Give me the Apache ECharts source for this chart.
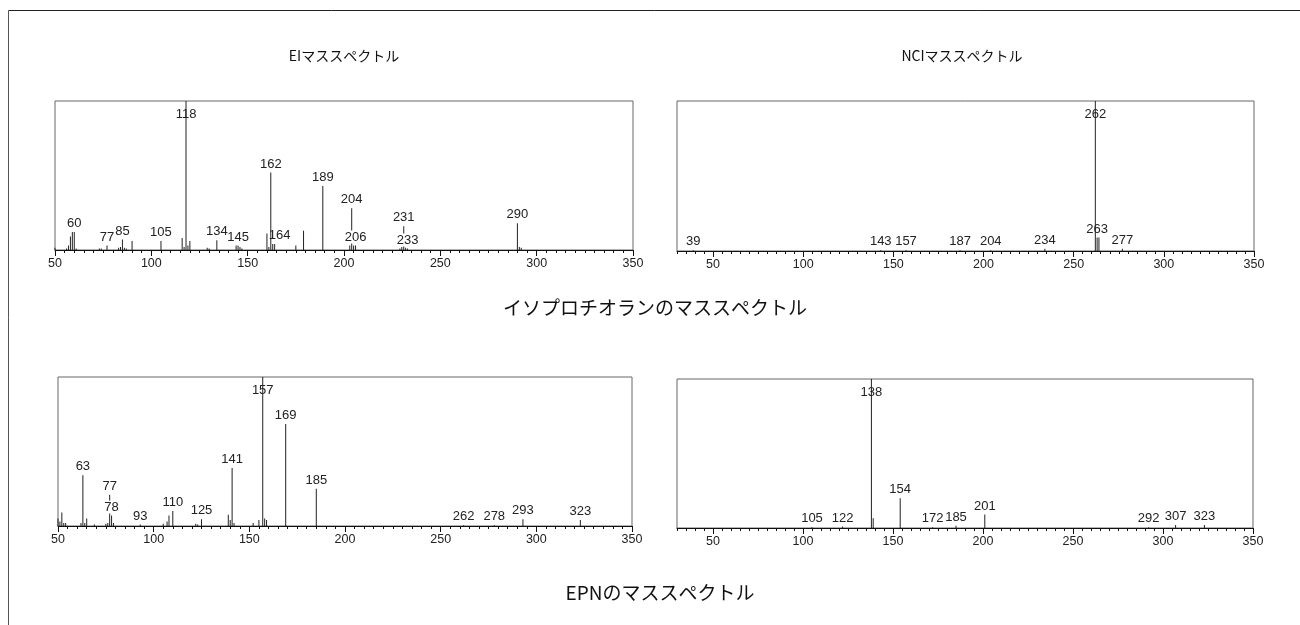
<!DOCTYPE html>
<html><head><meta charset="utf-8">
<script src="https://cdn.jsdelivr.net/npm/echarts@6/dist/echarts.min.js"></script>
<style>html,body{margin:0;padding:0;background:#fff}#c{width:1300px;height:625px}</style>
</head><body><div id="c"></div>
<script>
// ---- Panel titles ----
const titleEI = 'EIマススペクトル';
const titleNCI = 'NCIマススペクトル';
const titleIso = 'イソプロチオランのマススペクトル';
const titleEPN = 'EPNのマススペクトル';

// ---- Tick labels ----
const majorTicks = [50, 100, 150, 200, 250, 300, 350];

// ---- Isoprothiolane EI ----
const isoEiMz  = [50,56,57,58,59,60,61,73,74,77,83,84,85,86,87,90,105,116,117,118,119,120,129,130,134,144,145,146,147,160,161,162,163,164,175,179,189,203,204,205,206,229,230,231,232,233,290,291,292];
const isoEiInt = [1.5,1,3,9,12,12,1,1,1,3,1.5,2,7,1.5,1,6,6,8,2,100,3,6,1.5,1,6.5,3,3,2,1,11,2,52,4,4,3,13,43,3,28,3,3,1,2,16,1.5,1,18,2,1.5];
const isoEiLabeled = [60,77,85,105,118,134,145,162,164,189,204,206,231,233,290];

// ---- Isoprothiolane NCI ----
const isoNciMz  = [39,143,157,187,204,234,262,263,264,277];
const isoNciInt = [0.5,0.5,0.5,0.5,0.5,1.5,100,9,9,1.5];
const isoNciLabeled = [39,143,157,187,204,234,262,263,277];

// ---- EPN EI ----
const epnEiMz  = [50,51,52,53,54,62,63,64,65,69,75,76,77,78,79,93,105,107,108,110,122,123,125,139,140,141,142,152,155,157,158,159,169,185,262,278,293,323];
const epnEiInt = [5,3,9,2,2,2,34,2,5,1,1.5,2,21,7,2,1,1.5,3,7,10,1.5,1,4.5,7.5,4,39,2,2,4,100,5,4,68.5,25,0.5,0.5,4.5,4];
const epnEiLabeled = [63,77,78,93,110,125,141,157,169,185,262,278,293,323];

// ---- EPN NCI ----
const epnNciMz  = [105,122,138,139,154,172,185,201,292,307,323];
const epnNciInt = [0.5,1,100,6.5,20,0.5,1.5,9,0.5,2,2];
const epnNciLabeled = [105,122,138,154,172,185,201,292,307,323];

const whiteBg = [206,233,78];
const numFont = "'Liberation Sans Narrow','Arial Narrow','Liberation Sans',Arial,sans-serif";
const jpFont = "'Noto Sans CJK JP','Liberation Sans',sans-serif";

const panels = [
  {mz: isoEiMz, it: isoEiInt, lab: isoEiLabeled, min: 50, grid: {left:55, top:101, width:578, height:149}},
  {mz: isoNciMz, it: isoNciInt, lab: isoNciLabeled, min: 30, grid: {left:677, top:101, width:577, height:150}},
  {mz: epnEiMz, it: epnEiInt, lab: epnEiLabeled, min: 50, grid: {left:58, top:377, width:574, height:149}},
  {mz: epnNciMz, it: epnNciInt, lab: epnNciLabeled, min: 30, grid: {left:677, top:379, width:576, height:149}}
];

const grid = [], xAxis = [], yAxis = [], series = [];
panels.forEach((p, i) => {
  grid.push(Object.assign({show: true, borderColor: '#666', borderWidth: 1, containLabel: false}, p.grid));
  const minor = [];
  for (let v = p.min; v <= 350; v += 5) minor.push(v);
  xAxis.push({
    type: 'value', gridIndex: i, min: p.min, max: 350, position: 'bottom',
    axisLine: {show: true, onZero: false, lineStyle: {color: '#111', width: 1}},
    axisTick: {show: true, customValues: majorTicks, length: 6, lineStyle: {color: '#111'}},
    axisLabel: {show: true, customValues: majorTicks, margin: 7, fontSize: 12.5, color: '#222', fontFamily: numFont},
    splitLine: {show: false}
  });
  xAxis.push({
    type: 'value', gridIndex: i, min: p.min, max: 350, position: 'bottom',
    axisLine: {show: false},
    axisTick: {show: true, customValues: minor, length: 3, lineStyle: {color: '#111'}},
    axisLabel: {show: false},
    splitLine: {show: false}
  });
  yAxis.push({type: 'value', gridIndex: i, min: 0, max: 100, show: false, splitLine: {show: false}});
  const data = p.mz.map((m, k) => {
    const labeled = p.lab.indexOf(m) >= 0;
    const base = p.it[k] >= 100;
    const item = {value: [m, p.it[k]]};
    if (labeled) {
      item.label = base
        ? {show: true, position: 'insideTop', distance: 7}
        : {show: true, position: 'top', distance: 2};
      if (whiteBg.indexOf(m) >= 0) { item.label.backgroundColor = '#fff'; item.label.padding = [0, 1]; }
      if (i === 0 && m === 164) item.label.offset = [5, 0];
    }
    return item;
  });
  series.push({
    type: 'bar', xAxisIndex: i * 2, yAxisIndex: i, barWidth: 1,
    itemStyle: {color: '#222'},
    label: {show: false, formatter: (d) => String(d.value[0]), fontSize: 13, color: '#222', fontFamily: numFont},
    data: data
  });
});

const chart = echarts.init(document.getElementById('c'));
chart.setOption({
  animation: false,
  backgroundColor: '#fff',
  grid, xAxis, yAxis, series,
  graphic: [
    {type: 'line', shape: {x1: 8.5, y1: 10.5, x2: 1300, y2: 10.5}, style: {stroke: '#222', lineWidth: 1}},
    {type: 'line', shape: {x1: 8.5, y1: 10.5, x2: 8.5, y2: 625}, style: {stroke: '#555', lineWidth: 1}},
    {type: 'text', x: 344, y: 56, style: {text: titleEI, font: '14px ' + jpFont, fill: '#111', textAlign: 'center', textVerticalAlign: 'middle'}},
    {type: 'text', x: 962, y: 56, style: {text: titleNCI, font: '14px ' + jpFont, fill: '#111', textAlign: 'center', textVerticalAlign: 'middle'}},
    {type: 'text', x: 655, y: 308, style: {text: titleIso, font: '19px ' + jpFont, fill: '#111', textAlign: 'center', textVerticalAlign: 'middle'}},
    {type: 'text', x: 660, y: 593, style: {text: titleEPN, font: '19px ' + jpFont, fill: '#111', textAlign: 'center', textVerticalAlign: 'middle'}}
  ]
});
</script></body></html>
